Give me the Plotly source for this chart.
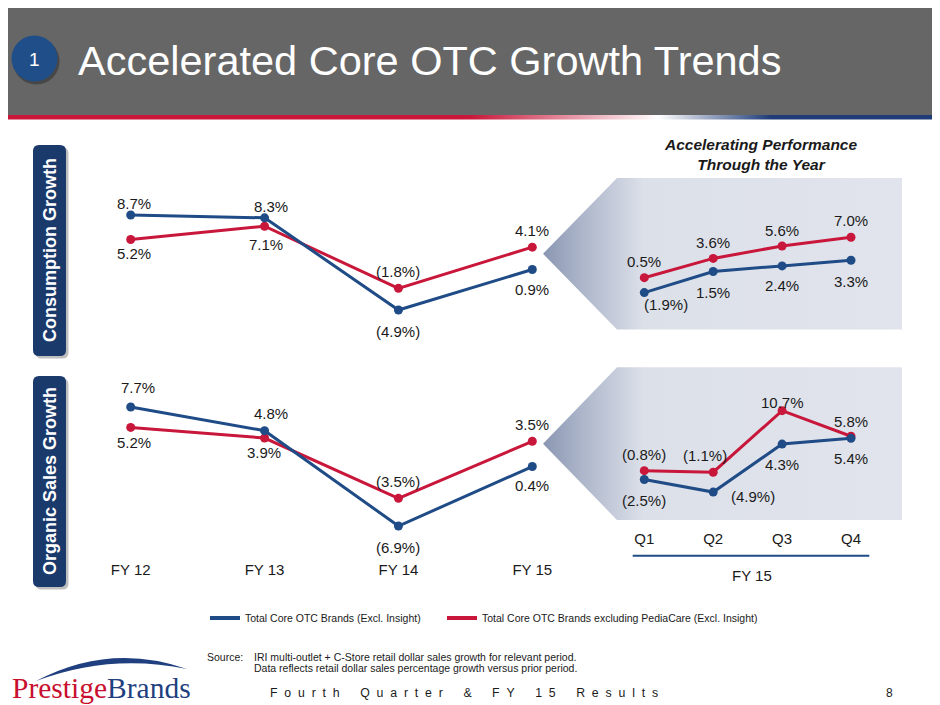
import plotly.graph_objects as go

# the page body adds an 8px margin, so the figure is laid out in screen pixels shifted by OFF
OFF = 8
SW, SH = 940, 705
W, H = SW - OFF, SH - OFF

# fiscal years (annual charts)
years = ["FY 12", "FY 13", "FY 14", "FY 15"]
cons_total = [8.7, 8.3, -4.9, 0.9]
cons_ex_pedia = [5.2, 7.1, -1.8, 4.1]
org_total = [7.7, 4.8, -6.9, 0.4]
org_ex_pedia = [5.2, 3.9, -3.5, 3.5]

# FY 15 quarters
quarters = ["Q1", "Q2", "Q3", "Q4"]
q_cons_total = [-1.9, 1.5, 2.4, 3.3]
q_cons_ex_pedia = [0.5, 3.6, 5.6, 7.0]
q_org_total = [-2.5, -4.9, 4.3, 5.4]
q_org_ex_pedia = [-0.8, -1.1, 10.7, 5.8]

name_total = "Total Core OTC Brands (Excl. Insight)"
name_ex = "Total Core OTC Brands excluding PediaCare (Excl. Insight)"

BLUE = "#1f4b86"
RED = "#c8173a"
NAVY = "#1b3a6c"
TXT = "#1a1a1a"
FONT = "Liberation Sans, Arial, sans-serif"


def fmt(v):
    return f"({abs(v):.1f}%)" if v < 0 else f"{v:.1f}%"


def fx(p):
    return (p - OFF) / W


def fy(p):
    return 1 - (p - OFF) / H


def rrect(x0, y0, x1, y1, r):
    return (f"M{x0 + r},{y0} L{x1 - r},{y0} Q{x1},{y0} {x1},{y0 + r} "
            f"L{x1},{y1 - r} Q{x1},{y1} {x1 - r},{y1} L{x0 + r},{y1} "
            f"Q{x0},{y1} {x0},{y1 - r} L{x0},{y0 + r} Q{x0},{y0} {x0 + r},{y0} Z")


fig = go.Figure()

# background drawing axes in screen pixel units (x, y)
# header gradient stripe
fig.add_trace(go.Scatter(
    x=[0, SW, SW, 0], y=[115, 115, 119.5, 119.5], mode="lines", fill="toself",
    line=dict(width=0), hoverinfo="skip", showlegend=False,
    fillgradient=dict(type="horizontal", start=0, stop=SW,
                      colorscale=[[0, RED], [0.5, RED], [0.7, "#ffffff"],
                                  [0.82, "#1f3c78"], [1, "#1f3c78"]]),
))
# shaded "arrow" panels behind quarterly charts
for top, bot in [(178, 329.5), (367.3, 520)]:
    mid = (top + bot) / 2
    fig.add_trace(go.Scatter(
        x=[543, 617, 902, 902, 617, 543], y=[mid, top, top, bot, bot, mid],
        mode="lines", fill="toself", line=dict(width=0), hoverinfo="skip",
        showlegend=False,
        fillgradient=dict(type="horizontal", start=543, stop=902,
                          colorscale=[[0, "#8a96b2"], [0.1, "#aab3c8"],
                                      [0.28, "#dce0e9"], [1, "#e1e4ec"]]),
    ))

# legend entries
fig.add_trace(go.Scatter(x=[None], y=[None], mode="lines", name=name_total,
                         line=dict(color=BLUE, width=4), legend="legend"))
fig.add_trace(go.Scatter(x=[None], y=[None], mode="lines", name=name_ex,
                         line=dict(color=RED, width=4), legend="legend2"))

# chart definitions: axis id, categories, blue, red, label shifts, x domain px, y px top/bottom, zero px, px per unit
charts = [
    dict(ax="2", cats=years, blue=cons_total, red=cons_ex_pedia,
         sb=[(3, 12), (6, 11), (0, -21), (0, -20)],
         sr=[(3, -14), (1, -18), (0, 17), (0, 17)],
         xd=(100, 565), x0=130.7, step=133.87, yt=180, yb=340, zero=275.8, ppu=6.985, ticks=False),
    dict(ax="3", cats=years, blue=org_total, red=org_ex_pedia,
         sb=[(7, 20), (6, 17), (0, -21), (0, -19)],
         sr=[(3, -15), (-1, -14), (0, 17), (0, 17)],
         xd=(100, 565), x0=130.7, step=133.87, yt=370, yb=559, zero=469.8, ppu=8.151, ticks=True),
    dict(ax="4", cats=quarters, blue=q_cons_total, red=q_cons_ex_pedia,
         sb=[(22, -12), (0, -21), (0, -20), (0, -21)],
         sr=[(0, 16), (0, 16), (0, 16), (0, 17)],
         xd=(615, 895), x0=644.3, step=68.9, yt=180, yb=330, zero=280.8, ppu=6.215, ticks=False),
    dict(ax="5", cats=quarters, blue=q_org_total, red=q_org_ex_pedia,
         sb=[(0, -21), (40, -4), (0, -20), (0, -20)],
         sr=[(0, 16), (-8, 17), (0, 8), (0, 15)],
         xd=(615, 895), x0=644.3, step=68.9, yt=370, yb=528, zero=466.5, ppu=5.217, ticks=True),
]

annotations = []
layout_axes = {}
for c in charts:
    xa, ya = "x" + c["ax"], "y" + c["ax"]
    for vals, col in [(c["red"], RED), (c["blue"], BLUE)]:
        fig.add_trace(go.Scatter(
            x=c["cats"], y=vals, mode="lines+markers", xaxis=xa, yaxis=ya,
            line=dict(color=col, width=3), marker=dict(color=col, size=9),
            showlegend=False, cliponaxis=False, hoverinfo="skip",
        ))
    for vals, shifts in [(c["red"], c["sr"]), (c["blue"], c["sb"])]:
        for cat, v, (dx, dy) in zip(c["cats"], vals, shifts):
            annotations.append(dict(
                x=cat, y=v, xref=xa, yref=ya, text=fmt(v), showarrow=False,
                xshift=dx, yshift=dy, font=dict(family=FONT, size=15, color=TXT),
            ))
    d0, d1 = c["xd"]
    layout_axes["xaxis" + c["ax"]] = dict(
        domain=[fx(d0), fx(d1)], anchor=ya, type="category",
        range=[-(c["x0"] - d0) / c["step"], 3 + (d1 - c["x0"] - 3 * c["step"]) / c["step"]],
        showgrid=False, zeroline=False, showline=False, ticks="",
        showticklabels=c["ticks"], tickfont=dict(family=FONT, size=15, color=TXT),
        fixedrange=True,
    )
    layout_axes["yaxis" + c["ax"]] = dict(
        domain=[fy(c["yb"]), fy(c["yt"])], anchor=xa,
        range=[(c["zero"] - c["yb"]) / c["ppu"], (c["zero"] - c["yt"]) / c["ppu"]],
        visible=False, fixedrange=True,
    )

shapes = [
    dict(type="rect", xref="x", yref="y", x0=0, x1=SW, y0=0, y1=115,
         fillcolor="#666666", line_width=0, layer="below"),
    dict(type="circle", xref="x", yref="y", x0=13, x1=59.5, y0=38, y1=84.5,
         fillcolor="rgba(0,0,0,0.3)", line_width=0, layer="below"),
    dict(type="circle", xref="x", yref="y", x0=11.5, x1=57.5, y0=35.5, y1=81.5,
         fillcolor="#1f4e89", line_width=0, layer="below"),
    # quarter axis rule
    dict(type="line", xref="x", yref="y", x0=632.7, x1=869.3, y0=555.7, y1=555.7,
         line=dict(color=BLUE, width=2)),
    # logo swoosh
    dict(type="path", xref="x", yref="y", path="M36,681 Q110,642 187,669 Q110,653 36,681 Z",
         fillcolor="#1f3f7f", line_width=0),
]
for y0, y1 in [(145, 356), (376, 587)]:
    shapes.append(dict(type="path", xref="x", yref="y", path=rrect(35.5, y0 + 2.5, 68.5, y1 + 2.5, 6),
                       fillcolor="rgba(0,0,0,0.25)", line_width=0, layer="below"))
    shapes.append(dict(type="path", xref="x", yref="y", path=rrect(33, y0, 66, y1, 6),
                       fillcolor=NAVY, line_width=0, layer="below"))

footer = "\u00a0" * 6
footer = footer.join("\u00a0\u00a0".join(w) for w in ["Fourth", "Quarter", "&", "FY", "15", "Results"])

annotations += [
    dict(x=34.5, y=59, xref="x", yref="y", text="1", showarrow=False,
         font=dict(family=FONT, size=19, color="white")),
    dict(x=76, y=60, xref="x", yref="y", text="Accelerated Core OTC Growth Trends",
         showarrow=False, xanchor="left", font=dict(family=FONT, size=41.5, color="white")),
    dict(x=49.5, y=250.5, xref="x", yref="y", text="<b>Consumption Growth</b>", textangle=-90,
         showarrow=False, font=dict(family=FONT, size=18, color="white")),
    dict(x=49.5, y=481.5, xref="x", yref="y", text="<b>Organic Sales Growth</b>", textangle=-90,
         showarrow=False, font=dict(family=FONT, size=18, color="white")),
    dict(x=760, y=154.5, xref="x", yref="y",
         text="<b><i>Accelerating Performance<br>Through the Year</i></b>",
         showarrow=False, font=dict(family=FONT, size=15.5, color=TXT)),
    dict(x=751.7, y=575, xref="x", yref="y", text="FY 15", showarrow=False,
         font=dict(family=FONT, size=15, color=TXT)),
    dict(x=205, y=656.7, xref="x", yref="y", text="Source:", showarrow=False, xanchor="left",
         font=dict(family=FONT, size=10.5, color=TXT)),
    dict(x=252, y=656.7, xref="x", yref="y",
         text="IRI multi-outlet + C-Store retail dollar sales growth for relevant period.",
         showarrow=False, xanchor="left", font=dict(family=FONT, size=10.5, color=TXT)),
    dict(x=252, y=668.3, xref="x", yref="y",
         text="Data reflects retail dollar sales percentage growth versus prior period.",
         showarrow=False, xanchor="left", font=dict(family=FONT, size=10.5, color=TXT)),
    dict(x=268, y=693.3, xref="x", yref="y", text=footer,
         showarrow=False, xanchor="left", font=dict(family=FONT, size=12.3, color=TXT)),
    dict(x=889.3, y=693.3, xref="x", yref="y", text="8", showarrow=False,
         font=dict(family=FONT, size=12, color=TXT)),
    dict(x=101, y=688, xref="x", yref="y",
         text="<span style='color:#c8102e'>Prestige</span><span style='color:#1f3f7f'>Brands</span>",
         showarrow=False, xanchor="center",
         font=dict(family="Liberation Serif, Times New Roman, serif", size=29.5)),
]

legend_style = dict(orientation="h", xanchor="left", yanchor="middle",
                    font=dict(family=FONT, size=10.5, color=TXT), bgcolor="rgba(0,0,0,0)")

fig.update_layout(
    width=W, height=H, margin=dict(l=0, r=0, t=0, b=0),
    paper_bgcolor="white", plot_bgcolor="rgba(0,0,0,0)",
    xaxis=dict(domain=[0, 1], range=[OFF, SW], visible=False, fixedrange=True),
    yaxis=dict(domain=[0, 1], range=[SH, OFF], visible=False, fixedrange=True),
    showlegend=True,
    legend=dict(x=fx(205), y=fy(618), **legend_style),
    legend2=dict(x=fx(442), y=fy(618), **legend_style),
    shapes=shapes, annotations=annotations,
    **layout_axes,
)

fig.write_html("out.html")
